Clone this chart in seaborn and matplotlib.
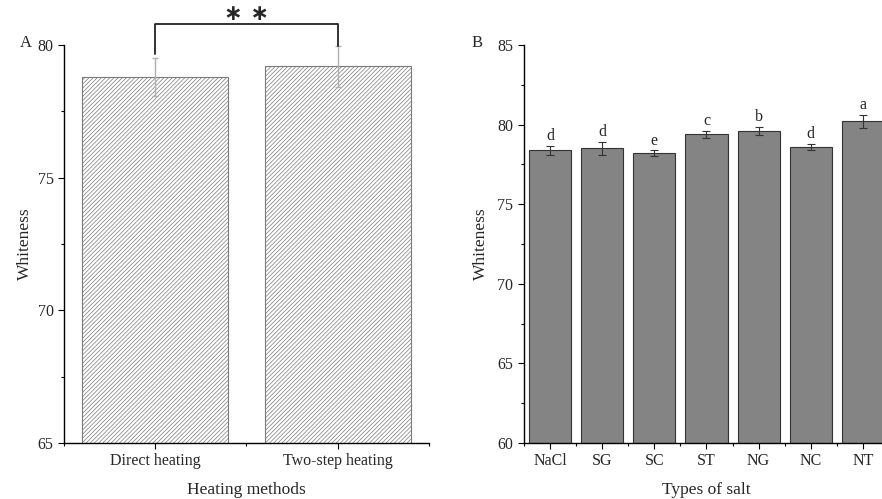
import numpy as np
import pandas as pd
import matplotlib
matplotlib.use("Agg")
import matplotlib.pyplot as plt
import seaborn as sns
from matplotlib.ticker import MultipleLocator

# ---------- data ----------
heat_methods = ["Direct heating", "Two-step heating"]
heat_means = [78.8, 79.2]
heat_err = [0.72, 0.78]

salts = ["NaCl", "SG", "SC", "ST", "NG", "NC", "NT"]
salt_means = [78.4, 78.5, 78.2, 79.4, 79.6, 78.6, 80.2]
salt_err = [0.28, 0.43, 0.18, 0.23, 0.27, 0.18, 0.40]
salt_letters = ["d", "d", "e", "c", "b", "d", "a"]

sns.set_style("ticks")
plt.rcParams["font.family"] = ["Liberation Serif", "DejaVu Serif"]
plt.rcParams["hatch.linewidth"] = 0.5
plt.rcParams["hatch.color"] = "#808080"

fig = plt.figure(figsize=(8.82, 4.99), dpi=100)
ax1 = fig.add_axes([0.0726, 0.1122, 0.4135, 0.7976])
ax2 = fig.add_axes([0.594, 0.1122, 0.414, 0.7976])

# ---------- A: heating methods ----------
df_a = pd.DataFrame({"method": heat_methods, "white": heat_means})
sns.barplot(data=df_a, x="method", y="white", ax=ax1, color="white",
            edgecolor="#7a7a7a", linewidth=0.8, width=0.8, errorbar=None)
for p in ax1.patches:
    p.set_hatch("////////")
ax1.errorbar(range(len(heat_means)), heat_means, yerr=heat_err, fmt="none",
             ecolor="#b0b0b0", elinewidth=1, capsize=2.5, capthick=1)
ax1.set_ylim(65, 80)
ax1.set_xlim(-0.5, 1.5)
ax1.yaxis.set_major_locator(MultipleLocator(5))
ax1.yaxis.set_minor_locator(MultipleLocator(2.5))
ax1.xaxis.set_minor_locator(MultipleLocator(0.5))

# significance bracket
top_l = heat_means[0] + heat_err[0] + 0.15
top_r = heat_means[1] + heat_err[1]
yb = 80.8
ax1.plot([0, 0, 1, 1], [top_l, yb, yb, top_r], color="#222222", lw=1.3,
         clip_on=False)
ax1.text(0.5, 81.15, "\u2217 \u2217", ha="center", va="center", fontsize=16,
         fontweight="bold", family="DejaVu Sans")
ax1.set_xlabel("Heating methods", fontsize=12.5, labelpad=9)
ax1.set_ylabel("Whiteness", fontsize=12.5, labelpad=3)
fig.text(0.022, 0.905, "A", fontsize=12)

# ---------- B: salt types ----------
df_b = pd.DataFrame({"salt": salts, "white": salt_means})
sns.barplot(data=df_b, x="salt", y="white", ax=ax2, color="#848484",
            edgecolor="#333333", linewidth=0.8, width=0.81, errorbar=None,
            saturation=1)
ax2.errorbar(range(len(salt_means)), salt_means, yerr=salt_err, fmt="none",
             ecolor="#333333", elinewidth=0.8, capsize=3, capthick=0.8)
for i, (m, e, lab) in enumerate(zip(salt_means, salt_err, salt_letters)):
    ax2.text(i, m + e + 0.1, lab, ha="center", va="bottom", fontsize=11.5)
ax2.set_ylim(60, 85)
ax2.set_xlim(-0.5, 6.5)
ax2.yaxis.set_major_locator(MultipleLocator(5))
ax2.yaxis.set_minor_locator(MultipleLocator(2.5))
ax2.xaxis.set_minor_locator(MultipleLocator(0.5))
ax2.set_xlabel("Types of salt", fontsize=12.5, labelpad=9)
ax2.set_ylabel("Whiteness", fontsize=12.5, labelpad=6)
fig.text(0.535, 0.905, "B", fontsize=12)

for ax in (ax1, ax2):
    sns.despine(ax=ax)
    for s in ("left", "bottom"):
        ax.spines[s].set_linewidth(1.0)
        ax.spines[s].set_color("black")
    ax.tick_params(axis="both", which="major", length=4, width=0.8,
                   labelsize=11.5, direction="out", color="black")
    ax.tick_params(axis="both", which="minor", length=2.5, width=0.8,
                   direction="out", color="black")

fig.savefig("out.png", dpi=100)
